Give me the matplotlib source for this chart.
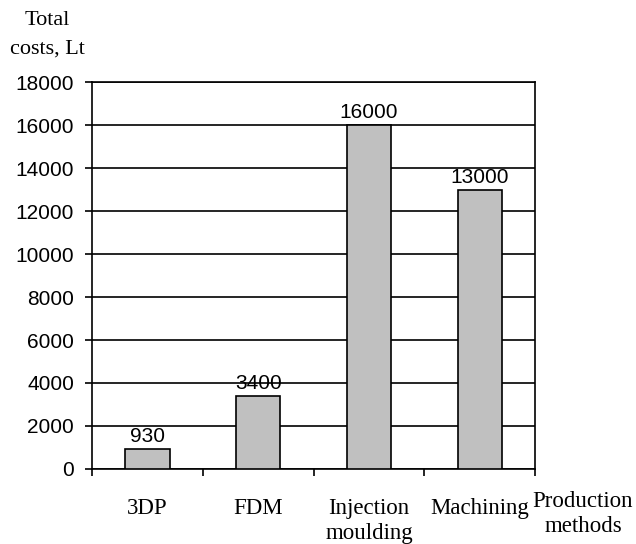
import numpy as np
import matplotlib
matplotlib.use("Agg")
import matplotlib.pyplot as plt

# data
methods = ["3DP", "FDM", "Injection\nmoulding", "Machining"]
costs = [930, 3400, 16000, 13000]
y_ticks = list(range(0, 18001, 2000))

fig = plt.figure(figsize=(6.36, 5.44), dpi=100)
ax = fig.add_axes([0.1447, 0.138, 0.697, 0.711])

x = np.arange(len(methods))
bars = ax.bar(x, costs, width=0.4, color="#c0c0c0", edgecolor="black",
              linewidth=1.2, zorder=3)

ax.set_xlim(-0.5, len(methods) - 0.5)
ax.set_ylim(0, 18000)
ax.yaxis.grid(True, color="black", linewidth=1.2, zorder=0)
ax.set_axisbelow(True)

ax.set_yticks(y_ticks)
ax.set_yticklabels([str(v) for v in y_ticks], family="Liberation Sans",
                   fontsize=15)
ax.tick_params(axis="y", length=5, width=1.2, pad=8, color="black")

# boundary ticks without labels, category labels as minor ticks
ax.set_xticks(np.arange(-0.5, len(methods), 1.0))
ax.set_xticklabels([])
ax.tick_params(axis="x", which="major", length=5, width=1.2)
ax.set_xticks(x, minor=True)
ax.set_xticklabels(methods, minor=True, family="Liberation Serif",
                   fontsize=16.5, linespacing=1.25)
ax.tick_params(axis="x", which="minor", length=0, pad=21)

for s in ax.spines.values():
    s.set_linewidth(1.2)

for b, v in zip(bars, costs):
    ax.annotate(str(v), (b.get_x() + b.get_width() / 2, v),
                xytext=(0, 2), textcoords="offset points",
                ha="center", va="bottom", family="Liberation Sans",
                fontsize=15)

fig.text(47 / 636, 1 - 25 / 544, "Total", family="Liberation Serif",
         fontsize=16, ha="center", va="baseline")
fig.text(47 / 636, 1 - 54 / 544, "costs, Lt", family="Liberation Serif",
         fontsize=16, ha="center", va="baseline")
fig.text(583 / 636, 1 - 491 / 544, "Production\nmethods",
         family="Liberation Serif", fontsize=16.5, ha="center", va="top",
         linespacing=1.25, multialignment="center")

fig.savefig("out.png", dpi=100)
